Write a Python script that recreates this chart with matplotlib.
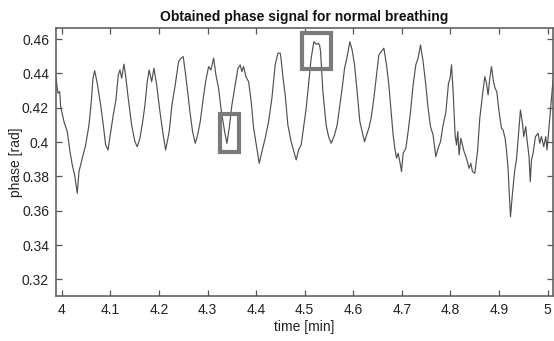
import matplotlib
matplotlib.use("Agg")
import matplotlib.pyplot as plt
from matplotlib.patches import Rectangle

plt.rcParams['font.family'] = ['Liberation Sans', 'DejaVu Sans']

title = "Obtained phase signal for normal breathing"
xlabel = "time [min]"
ylabel = "phase [rad]"

time_min = [
    3.988, 3.9922, 3.9957, 3.9977, 4.0045, 4.0113, 4.0169, 4.0216, 4.0265, 4.0319,
    4.0354, 4.0422, 4.0492, 4.0560, 4.0607, 4.0642, 4.0677, 4.0730, 4.0800, 4.0854,
    4.0903, 4.0951, 4.0992, 4.1060, 4.1115, 4.1163, 4.1198, 4.1233, 4.1280, 4.1321,
    4.1368, 4.1438, 4.1506, 4.1553, 4.1609, 4.1665, 4.1712, 4.1759, 4.1800, 4.1850,
    4.1897, 4.1953, 4.2021, 4.2088, 4.2138, 4.2212, 4.2267, 4.2335, 4.2405, 4.2453,
    4.2500, 4.2541, 4.2591, 4.2638, 4.2693, 4.2747, 4.2796, 4.2850, 4.2912, 4.2967,
    4.3023, 4.3070, 4.3126, 4.3173, 4.3228, 4.3276, 4.3352, 4.3399, 4.3447, 4.3502,
    4.3570, 4.3626, 4.3673, 4.3708, 4.3743, 4.3790, 4.3846, 4.3899, 4.3949, 4.4016,
    4.4064, 4.4119, 4.4187, 4.4257, 4.4325, 4.4393, 4.4449, 4.4496, 4.4510, 4.4552,
    4.4599, 4.4654, 4.4722, 4.4778, 4.4825, 4.4874, 4.4928, 4.4984, 4.5031, 4.5080,
    4.5134, 4.5189, 4.5237, 4.5272, 4.5307, 4.5327, 4.5375, 4.5442, 4.5492, 4.5545,
    4.5615, 4.5669, 4.5724, 4.5772, 4.5821, 4.5875, 4.5930, 4.5977, 4.6027, 4.6080,
    4.6136, 4.6183, 4.6233, 4.6274, 4.6321, 4.6368, 4.6424, 4.6479, 4.6527, 4.6574,
    4.6630, 4.6685, 4.6733, 4.6780, 4.6821, 4.6856, 4.6891, 4.6924, 4.6959, 4.6994,
    4.7027, 4.7083, 4.7130, 4.7179, 4.7233, 4.7288, 4.7335, 4.7385, 4.7438, 4.7494,
    4.7541, 4.7591, 4.7644, 4.7700, 4.7747, 4.7796, 4.7850, 4.7905, 4.7961, 4.7994,
    4.8023, 4.8056, 4.8097, 4.8126, 4.8152, 4.8179, 4.8214, 4.8249, 4.8282, 4.8331,
    4.8385, 4.8420, 4.8455, 4.8502, 4.8558, 4.8605, 4.8661, 4.8708, 4.8743, 4.8776,
    4.8811, 4.8846, 4.8887, 4.8920, 4.8955, 4.9002, 4.9051, 4.9084, 4.9126, 4.9154,
    4.9187, 4.9208, 4.9237, 4.9278, 4.9325, 4.9360, 4.9393, 4.9442, 4.9483, 4.9510,
    4.9551, 4.9578, 4.9619, 4.9644, 4.9669, 4.9702, 4.9751, 4.9805, 4.9840, 4.9874,
    4.9922, 4.9963, 4.9990, 5.0031, 5.0080, 5.0113,
]

phase_rad = [
    0.4372, 0.4285, 0.4294, 0.4206, 0.4119, 0.4061, 0.3944, 0.3867, 0.3808, 0.3702,
    0.3828, 0.3906, 0.3983, 0.4100, 0.4236, 0.4372, 0.4416, 0.4343, 0.4216, 0.4100,
    0.3983, 0.3954, 0.4032, 0.4158, 0.4246, 0.4391, 0.4420, 0.4372, 0.4454, 0.4372,
    0.4255, 0.4100, 0.4002, 0.3973, 0.4022, 0.4119, 0.4216, 0.4352, 0.4420, 0.4352,
    0.4430, 0.4333, 0.4177, 0.4041, 0.3954, 0.4061, 0.4216, 0.4333, 0.4469, 0.4489,
    0.4498, 0.4411, 0.4294, 0.4177, 0.4061, 0.3993, 0.4041, 0.4119, 0.4255, 0.4362,
    0.4440, 0.4420, 0.4489, 0.4391, 0.4314, 0.4197, 0.4061, 0.3993, 0.4081, 0.4216,
    0.4333, 0.4430, 0.4450, 0.4411, 0.4440, 0.4381, 0.4352, 0.4236, 0.4081, 0.3964,
    0.3876, 0.3944, 0.4022, 0.4119, 0.4255, 0.4450, 0.4518, 0.4518, 0.4496, 0.4381,
    0.4275, 0.4100, 0.4002, 0.3944, 0.3896, 0.3954, 0.3983, 0.4100, 0.4197, 0.4333,
    0.4489, 0.4585, 0.4570, 0.4576, 0.4566, 0.4527, 0.4294, 0.4100, 0.4032, 0.3993,
    0.4041, 0.4100, 0.4216, 0.4314, 0.4430, 0.4498, 0.4585, 0.4537, 0.4450, 0.4294,
    0.4119, 0.4061, 0.4002, 0.4041, 0.4081, 0.4139, 0.4255, 0.4391, 0.4508, 0.4527,
    0.4547, 0.4450, 0.4333, 0.4177, 0.4041, 0.3964, 0.3906, 0.3935, 0.3886, 0.3828,
    0.3935, 0.3964, 0.4061, 0.4177, 0.4333, 0.4450, 0.4489, 0.4566, 0.4469, 0.4333,
    0.4197, 0.4090, 0.4041, 0.3915, 0.3964, 0.4002, 0.4100, 0.4170, 0.4343, 0.4372,
    0.4450, 0.4294, 0.4041, 0.3983, 0.4061, 0.3925, 0.4022, 0.3983, 0.3944, 0.3906,
    0.3847, 0.3876, 0.3828, 0.3818, 0.3944, 0.4139, 0.4275, 0.4381, 0.4343, 0.4275,
    0.4372, 0.4440, 0.4352, 0.4314, 0.4294, 0.4177, 0.4081, 0.4071, 0.4022, 0.3954,
    0.3849, 0.3721, 0.3565, 0.3702, 0.3837, 0.3896, 0.4012, 0.4187, 0.4110, 0.4032,
    0.4090, 0.4012, 0.3915, 0.3769, 0.3896, 0.3935, 0.4032, 0.4051, 0.3993, 0.4032,
    0.3973, 0.4032, 0.3954, 0.4090, 0.4246, 0.4362,
]

xticks = [4.0, 4.1, 4.2, 4.3, 4.4, 4.5, 4.6, 4.7, 4.8, 4.9, 5.0]
xticklabels = ["4", "4.1", "4.2", "4.3", "4.4", "4.5", "4.6", "4.7", "4.8", "4.9", "5"]
yticks = [0.32, 0.34, 0.36, 0.38, 0.40, 0.42, 0.44, 0.46]
yticklabels = ["0.32", "0.34", "0.36", "0.38", "0.4", "0.42", "0.44", "0.46"]

# highlight boxes: (t_start, t_end, phase_low, phase_high)
box_trough = (4.3255, 4.3646, 0.3942, 0.4164)
box_peak = (4.4953, 4.5549, 0.4426, 0.4633)

fig = plt.figure(figsize=(5.54, 3.41), dpi=100)
ax = fig.add_axes([0.101, 0.132, 0.897, 0.786])

ax.plot(time_min, phase_rad, color="#505050", linewidth=0.85)

for (t0, t1, p0, p1) in (box_trough, box_peak):
    ax.add_patch(Rectangle((t0, p0), t1 - t0, p1 - p0, fill=False,
                           edgecolor="#7a7a7a", linewidth=3.0, zorder=3))

ax.set_xlim(3.988, 5.011)
ax.set_ylim(0.3103, 0.4665)
ax.set_xticks(xticks)
ax.set_xticklabels(xticklabels)
ax.set_yticks(yticks)
ax.set_yticklabels(yticklabels)

ax.tick_params(direction="in", length=4, width=0.9, color="#555555",
               labelsize=10, labelcolor="#222222", top=True, right=True, pad=5)
for s in ax.spines.values():
    s.set_color("#555555")
    s.set_linewidth(1.1)

ax.set_title(title, fontsize=10, fontweight="bold", color="#111111", pad=5)
ax.set_xlabel(xlabel, fontsize=10, color="#222222", labelpad=2)
ax.set_ylabel(ylabel, fontsize=10, color="#222222", labelpad=-0.5)

fig.savefig("out.png", dpi=100)
